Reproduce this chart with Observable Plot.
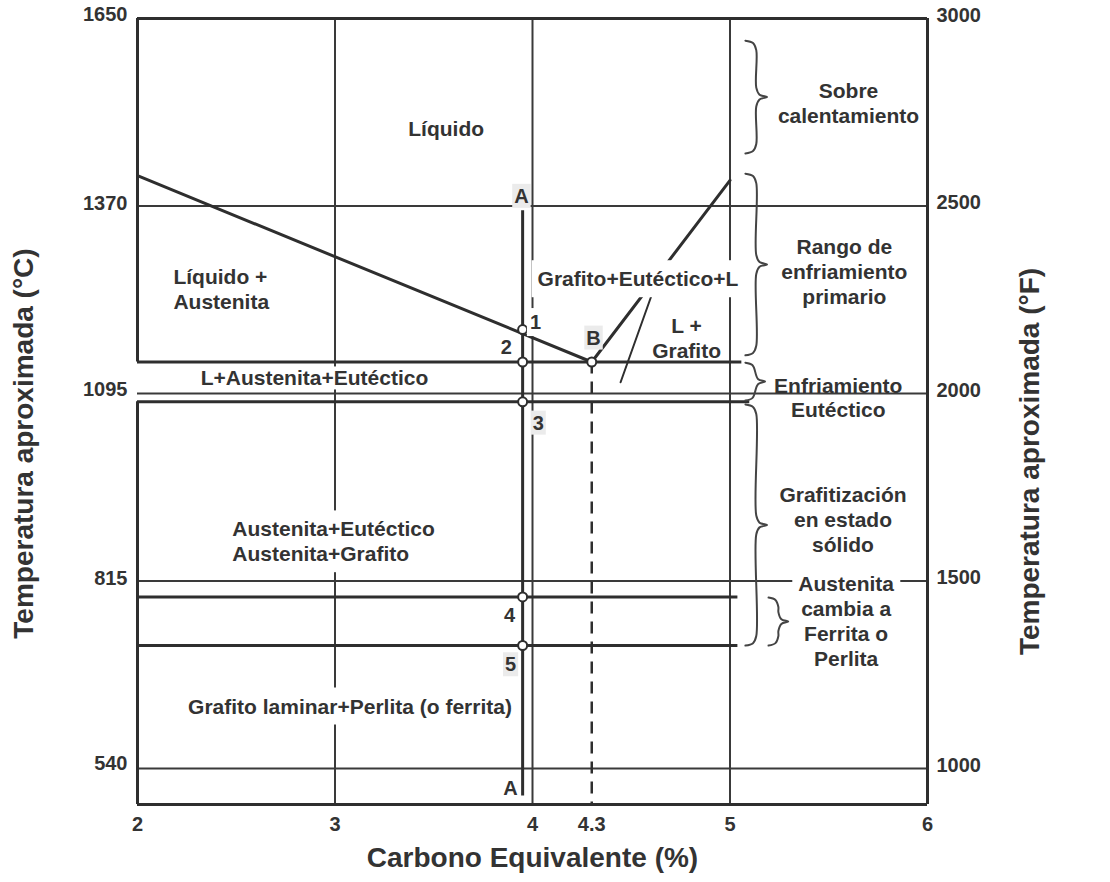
<!DOCTYPE html>
<html><head><meta charset="utf-8">
<script src="https://cdn.jsdelivr.net/npm/d3@7"></script>
<script src="https://cdn.jsdelivr.net/npm/@observablehq/plot@0.6"></script>
<style>
body{margin:0;background:#fff;}
#chart svg{display:block;}
</style></head><body><div id="chart"></div>
<script>
const fToC = f => (f - 32) * 5 / 9;

// Axis ticks
const xTicks = [2, 3, 4, 4.3, 5, 6];
const cTickLabels = [1650, 1370, 1095, 815, 540];
const fTickLabels = [3000, 2500, 2000, 1500, 1000];
const xDomain = [2, 6];
const fDomain = [904, 3000];

// Grid
const xGrid = [3, 4, 5];
const fGrid = [2500, 2000, 1500, 1000];

// Phase diagram lines (°C)
const liquidus = [{x: 2, t: 1416}, {x: 4.3, t: 1140}, {x: 5, t: 1409}];
const isotherms = [
  {t: 1140, x2: 5.06},
  {t: 1081, x2: 5.10},
  {t: 792, x2: 5.04},
  {t: 720, x2: 5.04}
];
const cooling = {x: 3.95, top: 1364, bottom: 497};
const eutectic = {x: 4.3, t: 1140};
const pointer = [{x: 4.608, t: 1243}, {x: 4.446, t: 1110}];
const points = [
  {x: 3.95, t: 1188}, {x: 3.95, t: 1140}, {x: 3.95, t: 1081},
  {x: 3.95, t: 792}, {x: 3.95, t: 720}, {x: 4.3, t: 1140}
];

// Labels
const pointLabelsPlain = [
  {x: 3.868, t: 1163, text: "2"},
  {x: 3.884, t: 766, text: "4"},
  {x: 3.889, t: 510, text: "A"}
];
const pointLabelsWhite = [
  {x: 4.015, t: 1200, text: "1"}
];
const pointLabelsGray = [
  {x: 3.944, t: 1387, text: "A"},
  {x: 4.309, t: 1177, text: "B"},
  {x: 4.029, t: 1051, text: "3"},
  {x: 3.889, t: 693, text: "5"}
];
const regionsCenter = [
  {x: 3.563, t: 1486, text: "Líquido"},
  {x: 4.78, t: 1176, text: "L +\nGrafito"}
];
const regionsLeft = [
  {x: 2.182, t: 1249, text: "Líquido +\nAustenita"}
];
const regionsBoxedCenter = [
  {x: 4.534, t: 1264, text: "Grafito+Eutéctico+L"},
  {x: 3.076, t: 631, text: "Grafito laminar+Perlita (o ferrita)"}
];
const regionsBandLabel = [
  {x: 2.896, t: 1117, text: "L+Austenita+Eutéctico"}
];
const regionsBoxedLeft = [
  {x: 2.48, t: 875, text: "Austenita+Eutéctico\nAustenita+Grafito"}
];
const rangeLabels = [
  {x: 5.600, t: 1524, text: "Sobre\ncalentamiento"},
  {x: 5.579, t: 1275, text: "Rango de\nenfriamiento\nprimario"},
  {x: 5.548, t: 1088, text: "Enfriamiento\nEutéctico"},
  {x: 5.572, t: 907, text: "Grafitización\nen estado\nsólido"}
];
const rangeLabelsBoxed = [
  {x: 5.588, t: 757, text: "Austenita\ncambia a\nFerrita o\nPerlita"}
];
const braces = [
  {x: 5.078, w: 0.11, top: 1616, bottom: 1449},
  {x: 5.078, w: 0.11, top: 1419, bottom: 1150},
  {x: 5.078, w: 0.10, top: 1139, bottom: 1083},
  {x: 5.078, w: 0.11, top: 1077, bottom: 720},
  {x: 5.195, w: 0.10, top: 791, bottom: 720}
];

const yTop = fToC(fDomain[1]);
const yBottom = fToC(fDomain[0]);

function bracePts(b, i) {
  const h = b.top - b.bottom;
  const r = Math.min(14, h / 4);
  const mid = (b.top + b.bottom) / 2;
  const shape = [
    [0, b.top], [0.35, b.top - 0.25 * r], [0.5, b.top - r],
    [0.5, mid + r], [0.65, mid + 0.25 * r], [1, mid],
    [0.65, mid - 0.25 * r], [0.5, mid - r],
    [0.5, b.bottom + r], [0.35, b.bottom + 0.25 * r], [0, b.bottom]
  ];
  return shape.map(([u, t]) => ({x: b.x + u * b.w, t, id: i}));
}
const braceData = braces.flatMap(bracePts);

const INK = "#2e2e2e";
const TXT = "#333";
const FS = 21;
const textBase = {x: "x", y: "t", text: "text", fill: TXT, fontSize: FS, fontWeight: "bold", lineHeight: 1.18};

const svg = Plot.plot({
  width: 1110,
  height: 882,
  marginLeft: 137,
  marginRight: 183,
  marginTop: 18,
  marginBottom: 78,
  style: {fontFamily: "'Liberation Sans', Arial, sans-serif", background: "white", color: TXT, overflow: "visible"},
  x: {domain: xDomain},
  y: {domain: [yBottom, yTop]},
  marks: [
    // grid
    Plot.ruleX(xGrid, {y1: yBottom, y2: yTop, stroke: "#3a3a3a", strokeWidth: 2}),
    // boxed band label sits under the 2000°F line and isotherms
    Plot.text(regionsBandLabel, {...textBase, ariaDescription: "box-white-band"}),
    Plot.ruleY(fGrid.map(fToC), {x1: 2, x2: 6, stroke: "#3a3a3a", strokeWidth: 2}),
    // isotherms
    Plot.ruleY(isotherms, {y: "t", x1: 2, x2: "x2", stroke: INK, strokeWidth: 3}),
    // liquidus
    Plot.line(liquidus, {x: "x", y: "t", stroke: INK, strokeWidth: 3}),
    // pointer
    Plot.line(pointer, {x: "x", y: "t", stroke: INK, strokeWidth: 2}),
    // cooling path A-A
    Plot.ruleX([cooling], {x: "x", y1: "top", y2: "bottom", stroke: INK, strokeWidth: 3}),
    // eutectic composition dashed
    Plot.ruleX([eutectic], {x: "x", y1: "t", y2: yBottom, stroke: INK, strokeWidth: 2.5, strokeDasharray: "12,8"}),
    // braces
    Plot.line(braceData, {x: "x", y: "t", z: "id", curve: "catmull-rom", stroke: "#444", strokeWidth: 2}),
    // frame
    Plot.ruleY([yTop, yBottom], {x1: 2, x2: 6, stroke: INK, strokeWidth: 3}),
    Plot.ruleX([6], {y1: yBottom, y2: yTop, stroke: INK, strokeWidth: 3}),
    Plot.ruleX([{a: yTop, b: 1140}, {a: 1081, b: yBottom}], {x: 2, y1: "a", y2: "b", stroke: INK, strokeWidth: 3}),
    // points
    Plot.dot(points, {x: "x", y: "t", r: 4.5, fill: "white", stroke: INK, strokeWidth: 2}),
    // axes
    Plot.axisX(xTicks, {anchor: "bottom", tickSize: 0, tickPadding: 12, fontSize: 20, fontWeight: "bold", label: null, tickFormat: d => String(d), color: TXT}),
    Plot.axisY(cTickLabels, {anchor: "left", tickSize: 0, tickPadding: 10, dy: -3, fontSize: 20, fontWeight: "bold", label: null, tickFormat: d => String(d), color: TXT}),
    Plot.axisY(fTickLabels.map(fToC), {anchor: "right", tickSize: 0, tickPadding: 9, dy: -3, fontSize: 20, fontWeight: "bold", label: null, tickFormat: d => String(Math.round(d * 9 / 5 + 32)), color: TXT}),
    // titles
    Plot.text(["Carbono Equivalente (%)"], {text: d => d, frameAnchor: "bottom", dy: 54, fontSize: 28, fontWeight: "bold", fill: TXT, lineAnchor: "middle"}),
    Plot.text(["Temperatura aproximada (°C)"], {text: d => d, frameAnchor: "left", rotate: -90, dx: -113, dy: 32, fontSize: 28, fontWeight: "bold", fill: TXT, lineAnchor: "middle", textAnchor: "middle"}),
    Plot.text(["Temperatura aproximada (°F)"], {text: d => d, frameAnchor: "right", rotate: -90, dx: 103, dy: 50, fontSize: 28, fontWeight: "bold", fill: TXT, lineAnchor: "middle", textAnchor: "middle"}),
    // labels
    Plot.text(regionsCenter, {...textBase}),
    Plot.text(regionsLeft, {...textBase, textAnchor: "start"}),
    Plot.text(regionsBoxedCenter, {...textBase, ariaDescription: "box-white"}),
    Plot.text(regionsBoxedLeft, {...textBase, textAnchor: "start", ariaDescription: "box-white"}),
    Plot.text(rangeLabels, {...textBase}),
    Plot.text(rangeLabelsBoxed, {...textBase, ariaDescription: "box-white"}),
    Plot.text(pointLabelsPlain, {...textBase, fontSize: 20}),
    Plot.text(pointLabelsWhite, {...textBase, fontSize: 20, ariaDescription: "box-white-small"}),
    Plot.text(pointLabelsGray, {...textBase, fontSize: 20, ariaDescription: "box-gray"})
  ]
});
document.getElementById("chart").append(svg);

const boxStyles = [
  ["box-white", "white", 6, 7],
  ["box-white-band", "white", 6, 0],
  ["box-white-small", "white", 3, 3],
  ["box-gray", "#ebebeb", 2, 1]
];
for (const [desc, fill, px, py] of boxStyles) {
  svg.querySelectorAll(`g[aria-description="${desc}"] text`).forEach(t => {
    const b = t.getBBox();
    const rect = document.createElementNS("http://www.w3.org/2000/svg", "rect");
    rect.setAttribute("x", b.x - px);
    rect.setAttribute("y", b.y - py);
    rect.setAttribute("width", b.width + 2 * px);
    rect.setAttribute("height", b.height + 2 * py);
    rect.setAttribute("fill", fill);
    rect.setAttribute("stroke", "none");
    const tr = t.getAttribute("transform");
    if (tr) rect.setAttribute("transform", tr);
    t.parentNode.insertBefore(rect, t);
  });
}
</script></body></html>
